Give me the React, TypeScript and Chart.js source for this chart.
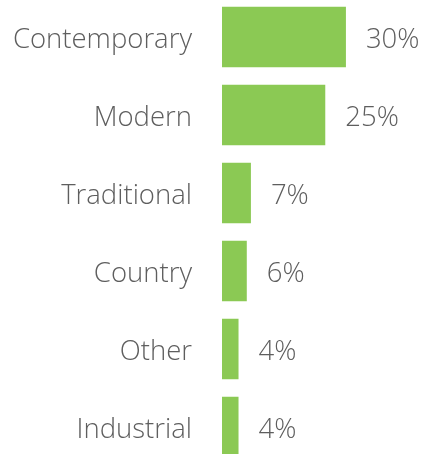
import React, { useEffect, useRef } from "react";
import { Chart, registerables } from "chart.js";

Chart.register(...registerables);

const categories = ["Contemporary", "Modern", "Traditional", "Country", "Other", "Industrial"];
const shares = [30, 25, 7, 6, 4, 4];
const valueLabels = ["30%", "25%", "7%", "6%", "4%", "4%"];

const BAR_COLOR = "#8BC954";
const TEXT_COLOR = "#5e5e5e";
const FONT_FAMILY = "'Open Sans', Lato, sans-serif";
const FONT_SIZE = 27.5;
const FONT_WEIGHT = "300";

const labelPlugin = {
  id: "barLabels",
  afterDatasetsDraw(chart: any) {
    const { ctx } = chart;
    const meta = chart.getDatasetMeta(0);
    const yScale = chart.scales.y;
    ctx.save();
    ctx.font = `${FONT_WEIGHT} ${FONT_SIZE}px ${FONT_FAMILY}`;
    ctx.fillStyle = TEXT_COLOR;
    ctx.textBaseline = "middle";
    categories.forEach((cat, i) => {
      const y = yScale.getPixelForValue(i) + 3;
      ctx.textAlign = "right";
      ctx.fillText(cat, yScale.right - 30, y);
    });
    meta.data.forEach((bar: any, i: number) => {
      ctx.textAlign = "left";
      ctx.fillText(valueLabels[i], bar.x + 20, bar.y + 3);
    });
    ctx.restore();
  },
};

export default function App() {
  const ref = useRef<HTMLCanvasElement | null>(null);

  useEffect(() => {
    document.body.style.margin = "0";
    document.body.style.overflow = "hidden";
    const chart = new Chart(ref.current!, {
      type: "bar",
      data: {
        labels: categories,
        datasets: [
          {
            data: shares,
            backgroundColor: BAR_COLOR,
            borderWidth: 0,
            barPercentage: 0.775,
            categoryPercentage: 1,
          },
        ],
      },
      options: {
        indexAxis: "y",
        animation: false,
        responsive: false,
        maintainAspectRatio: false,
        layout: { padding: 0 },
        plugins: { legend: { display: false }, tooltip: { enabled: false } },
        scales: {
          x: { display: false, min: 0, max: 48.9 },
          y: {
            grid: { display: false, drawTicks: false },
            border: { display: false },
            afterFit(scale: any) {
              scale.width = 222;
              scale.paddingTop = 0;
              scale.paddingBottom = 0;
            },
            ticks: { display: false },
          },
        },
      },
      plugins: [labelPlugin],
    });
    return () => chart.destroy();
  }, []);

  return (
    <div style={{ position: "absolute", left: 0, top: -2, width: 424, height: 468 }}>
      <canvas ref={ref} width={424} height={468} style={{ display: "block" }} />
    </div>
  );
}
